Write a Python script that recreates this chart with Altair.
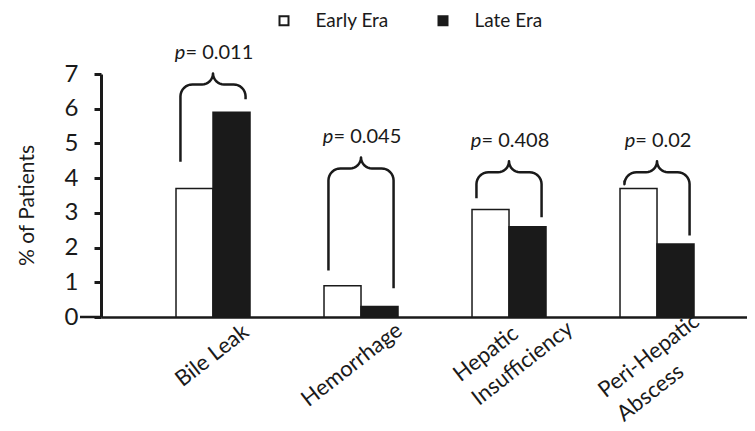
import json
import math
import altair as alt
import pandas as pd

# ---------------- data ----------------
categories = ["Bile Leak", "Hemorrhage", "Hepatic Insufficiency", "Peri-Hepatic Abscess"]
label_lines = [["Bile Leak"], ["Hemorrhage"], ["Hepatic", "Insufficiency"], ["Peri-Hepatic", "Abscess"]]
eras = ["Early Era", "Late Era"]
early_pct = [3.7, 0.9, 3.1, 3.7]
late_pct = [5.9, 0.3, 2.6, 2.1]
p_values = ["0.011", "0.045", "0.408", "0.02"]
# bracket levels (in % units)
brace_top = [6.7, 4.28, 4.17, 4.17]
brace_left_end = [4.47, 1.34, 3.42, 3.93]
brace_right_end = [6.27, 0.83, 2.87, 2.35]
y_ticks = [0, 1, 2, 3, 4, 5, 6, 7]

# ---------------- layout / style ----------------
FONT = "Lato"
INK = "#1a1a1a"
W, H = 646, 243
X_MIN, X_MAX = -0.7568, 3.608
Y_MIN, Y_MAX = 0, 7
KX = W / (X_MAX - X_MIN)
KY = H / (Y_MAX - Y_MIN)
BAR_W = 0.25
ARM = 0.22            # half-width of brace, category units
R_CORNER = 12         # px
R_CUSP = 11           # px
TEXT_ABOVE = 31       # px above brace top
LABEL_DX = [-31, -53, -49, -52]
LABEL_DY = [70, 90, 65, 81]

xs = alt.Scale(domain=[X_MIN, X_MAX], nice=False, zero=False)
ys = alt.Scale(domain=[Y_MIN, Y_MAX], nice=False, zero=False)

# bars
rows = []
for i, c in enumerate(categories):
    rows.append(dict(cat=c, era=eras[0], v=early_pct[i], x0=i - BAR_W, x1=i))
    rows.append(dict(cat=c, era=eras[1], v=late_pct[i], x0=i, x1=i + BAR_W))
bars_df = pd.DataFrame(rows)

# braces
brows = []
for i, c in enumerate(categories):
    T = brace_top[i]
    pts = []
    L = -ARM * KX
    Rr = ARM * KX
    pts.append((L, (brace_left_end[i] - T) * KY))
    for k in range(0, 9):
        th = math.radians(180 - 90 * k / 8)
        pts.append((L + R_CORNER + R_CORNER * math.cos(th), -R_CORNER + R_CORNER * math.sin(th)))
    for k in range(0, 9):
        th = math.radians(-90 + 90 * k / 8)
        pts.append((-R_CUSP + R_CUSP * math.cos(th), R_CUSP + R_CUSP * math.sin(th)))
    for k in range(1, 9):
        th = math.radians(180 + 90 * k / 8)
        pts.append((R_CUSP + R_CUSP * math.cos(th), R_CUSP + R_CUSP * math.sin(th)))
    for k in range(0, 9):
        th = math.radians(90 - 90 * k / 8)
        pts.append((Rr - R_CORNER + R_CORNER * math.cos(th), -R_CORNER + R_CORNER * math.sin(th)))
    pts.append((Rr, (brace_right_end[i] - T) * KY))
    for j, (px, py) in enumerate(pts):
        brows.append(dict(cat=c, o=j, bx=i + px / KX, by=T + py / KY))
brace_df = pd.DataFrame(brows)

# p-value text (italic "p" + rest)
CW = {"p": 0.57, "=": 0.58, " ": 0.19, ".": 0.24}
PFS = 20
def tw(s):
    return sum(CW.get(ch, 0.58) for ch in s) * PFS
trows = []
for i, c in enumerate(categories):
    rest = "= " + p_values[i]
    total = tw("p") + tw(rest)
    split = -total / 2 + tw("p")
    trows.append(dict(cat=c, tx=i + split / KX, ty=brace_top[i] + TEXT_ABOVE / KY, rest=rest, p="p"))
text_df = pd.DataFrame(trows)

def cond(vals):
    return {"condition": [{"test": f"datum.value == {k}", "value": v} for k, v in enumerate(vals[:-1])],
            "value": vals[-1]}

label_expr = json.dumps(label_lines) + "[datum.value]"

x_axis = alt.Axis(
    title=None, values=[0, 1, 2, 3], labelExpr=label_expr, ticks=False, tickSize=0, grid=False,
    domainColor=INK, domainWidth=2.5, labelAngle=-38, labelAlign="left", labelBaseline="alphabetic",
    labelFont=FONT, labelFontSize=22, labelColor=INK, labelLineHeight=30,
    labelOffset=cond(LABEL_DX), labelPadding=cond(LABEL_DY),
    labelFlush=False, labelOverlap=False, labelBound=False)
y_axis = alt.Axis(
    title="% of Patients", values=y_ticks, grid=False, domainColor=INK, domainWidth=3,
    tickColor=INK, tickWidth=3, tickSize=7, labelFont=FONT, labelFontSize=24, labelColor=INK,
    labelPadding=16, titleFont=FONT, titleFontSize=21, titleFontWeight="normal", titleColor=INK,
    titleAngle=-90, titleX=-68, titleY=131, titleAlign="center", titleBaseline="alphabetic")

bars = alt.Chart(bars_df).mark_rect(stroke=INK, strokeWidth=1.5).encode(
    x=alt.X("x0:Q", scale=xs, axis=x_axis),
    x2="x1:Q",
    y=alt.Y("v:Q", scale=ys, axis=y_axis),
    y2=alt.Y2(datum=0),
    fill=alt.Fill("era:N", scale=alt.Scale(domain=eras, range=["#ffffff", INK]), legend=alt.Legend(
        title=None, orient="none", direction="horizontal", legendX=173.5, legendY=-63,
        symbolType="square", symbolSize=81, symbolStrokeColor=INK, symbolStrokeWidth=2,
        labelFont=FONT, labelFontSize=19, labelColor=INK, labelOffset=22, columnPadding=44,
        labelLimit=300, padding=0)),
)

zero_ext = alt.Chart(pd.DataFrame({"a": [X_MIN - 21 / KX], "b": [X_MIN], "y": [0]})).mark_rule(
    color=INK, strokeWidth=2.5).encode(
    x=alt.X("a:Q", scale=xs, axis=x_axis), x2="b:Q", y=alt.Y("y:Q", scale=ys, axis=y_axis))

braces = alt.Chart(brace_df).mark_line(color=INK, strokeWidth=2.5, strokeJoin="round").encode(
    x=alt.X("bx:Q", scale=xs, axis=x_axis), y=alt.Y("by:Q", scale=ys, axis=y_axis),
    detail="cat:N", order="o:Q")

ptxt = alt.Chart(text_df).mark_text(font=FONT, fontSize=PFS, fontStyle="italic", align="right",
                                    baseline="middle", color=INK).encode(
    x=alt.X("tx:Q", scale=xs, axis=x_axis), y=alt.Y("ty:Q", scale=ys, axis=y_axis), text="p:N")
rtxt = alt.Chart(text_df).mark_text(font=FONT, fontSize=PFS, align="left", baseline="middle",
                                    color=INK).encode(
    x=alt.X("tx:Q", scale=xs, axis=x_axis), y=alt.Y("ty:Q", scale=ys, axis=y_axis), text="rest:N")

chart = alt.layer(bars, zero_ext, braces, ptxt, rtxt).properties(
    width=W, height=H, autosize=alt.AutoSizeParams(type="none"),
    padding={"left": 93, "top": 66, "right": 0, "bottom": 112}, background="white",
).configure_view(stroke=None)

chart.save("out.html", embed_options={"renderer": "svg", "actions": False})
